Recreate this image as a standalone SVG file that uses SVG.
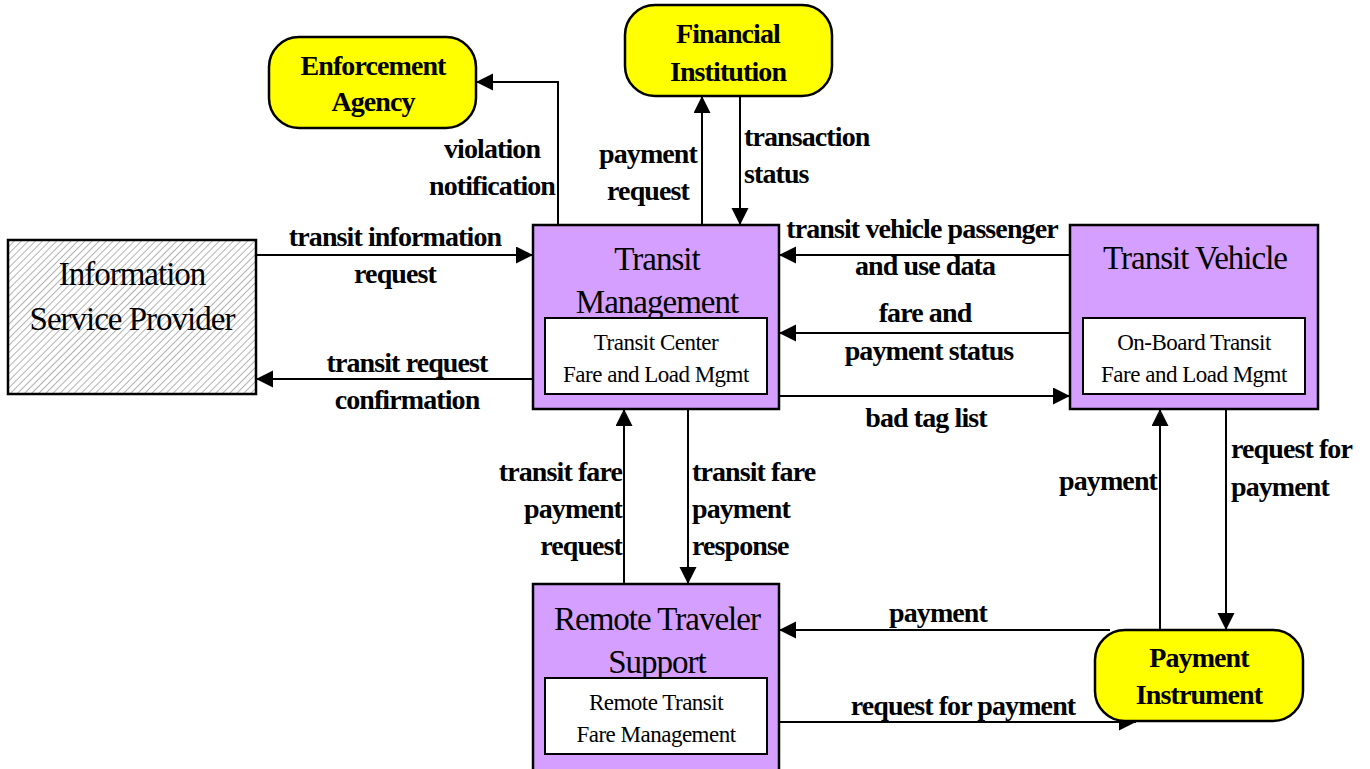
<svg xmlns="http://www.w3.org/2000/svg" width="1370" height="769" viewBox="0 0 1370 769">
<style>
.box{fill:#D49FFF;stroke:#000;stroke-width:2.5}
.inner{fill:#fff;stroke:#000;stroke-width:2}
.ext{fill:#FFFF00;stroke:#000;stroke-width:2.5}
.title{font-family:"Liberation Serif",serif;font-size:33px;letter-spacing:-1px;text-anchor:middle;fill:#000}
.sub{font-family:"Liberation Serif",serif;font-size:23px;letter-spacing:-0.5px;text-anchor:middle;fill:#000}
.lbl{font-family:"Liberation Serif",serif;font-size:28px;font-weight:bold;letter-spacing:-0.9px;fill:#000}
.c{text-anchor:middle}.e{text-anchor:end}.s{text-anchor:start}
.conn{fill:none;stroke:#000;stroke-width:2;marker-end:url(#arr)}
</style>
<defs>
<marker id="arr" markerUnits="userSpaceOnUse" markerWidth="19" markerHeight="19" refX="17" refY="8.5" orient="auto">
<path d="M0,0 L17,8.5 L0,17 z" fill="#000"/>
</marker>
<pattern id="hatch" patternUnits="userSpaceOnUse" width="5" height="5" patternTransform="rotate(45)">
<rect width="5" height="5" fill="#fff"/>
<line x1="0" y1="0" x2="0" y2="5" stroke="#999" stroke-width="1.5"/>
</pattern>
</defs>
<rect width="1370" height="769" fill="#fff"/>

<g id="connectors">
<path class="conn" d="M256,255 H533"/>
<path class="conn" d="M533,379 H256"/>
<path class="conn" d="M558,225 V82 H476"/>
<path class="conn" d="M702,225 V96"/>
<path class="conn" d="M740,96 V225"/>
<path class="conn" d="M1070,255 H779"/>
<path class="conn" d="M1070,333 H779"/>
<path class="conn" d="M779,396 H1070"/>
<path class="conn" d="M624,584 V409"/>
<path class="conn" d="M688,409 V584"/>
<path class="conn" d="M1160,630 V409"/>
<path class="conn" d="M1226,409 V630"/>
<path class="conn" d="M1110,630 H779"/>
<path class="conn" d="M779,722 H1136"/>
</g>

<g id="labels">
<text class="lbl c" x="395" y="246">transit information</text>
<text class="lbl c" x="395" y="283">request</text>
<text class="lbl c" x="407" y="372">transit request</text>
<text class="lbl c" x="407" y="409">confirmation</text>
<text class="lbl c" x="492" y="158">violation</text>
<text class="lbl c" x="492" y="195">notification</text>
<text class="lbl c" x="648" y="163">payment</text>
<text class="lbl c" x="648" y="200">request</text>
<text class="lbl s" x="744" y="146">transaction</text>
<text class="lbl s" x="744" y="183">status</text>
<text class="lbl c" x="922" y="238">transit vehicle passenger</text>
<text class="lbl c" x="925" y="275">and use data</text>
<text class="lbl c" x="925" y="322">fare and</text>
<text class="lbl c" x="929" y="360">payment status</text>
<text class="lbl c" x="926" y="427">bad tag list</text>
<text class="lbl e" x="622" y="481">transit fare</text>
<text class="lbl e" x="622" y="518">payment</text>
<text class="lbl e" x="622" y="555">request</text>
<text class="lbl s" x="692" y="481">transit fare</text>
<text class="lbl s" x="692" y="518">payment</text>
<text class="lbl s" x="692" y="555">response</text>
<text class="lbl e" x="1157" y="490">payment</text>
<text class="lbl s" x="1231" y="458">request for</text>
<text class="lbl s" x="1231" y="496">payment</text>
<text class="lbl c" x="938" y="622">payment</text>
<text class="lbl c" x="963" y="715">request for payment</text>
</g>

<g id="isp">
<rect x="8" y="240" width="248" height="154" fill="url(#hatch)" stroke="#000" stroke-width="2.5"/>
<text class="title" x="132" y="285">Information</text>
<text class="title" x="132" y="330">Service Provider</text>
</g>

<g id="transit-management">
<rect class="box" x="533" y="225" width="246" height="184"/>
<text class="title" x="657" y="270">Transit</text>
<text class="title" x="657" y="313">Management</text>
<rect class="inner" x="545" y="318" width="222" height="76"/>
<text class="sub" x="656" y="350">Transit Center</text>
<text class="sub" x="656" y="382">Fare and Load Mgmt</text>
</g>

<g id="transit-vehicle">
<rect class="box" x="1070" y="225" width="248" height="184"/>
<text class="title" x="1195" y="269">Transit Vehicle</text>
<rect class="inner" x="1083" y="318" width="222" height="76"/>
<text class="sub" x="1194" y="350">On-Board Transit</text>
<text class="sub" x="1194" y="382">Fare and Load Mgmt</text>
</g>

<g id="remote-traveler-support">
<rect class="box" x="533" y="584" width="246" height="190"/>
<text class="title" x="657" y="630">Remote Traveler</text>
<text class="title" x="657" y="673">Support</text>
<rect class="inner" x="545" y="678" width="222" height="76"/>
<text class="sub" x="656" y="710">Remote Transit</text>
<text class="sub" x="656" y="742">Fare Management</text>
</g>

<g id="enforcement-agency">
<rect class="ext" x="269" y="37" width="207" height="91" rx="30" ry="30"/>
<text class="lbl c" x="373" y="75">Enforcement</text>
<text class="lbl c" x="373" y="111">Agency</text>
</g>

<g id="financial-institution">
<rect class="ext" x="625" y="5" width="207" height="91" rx="30" ry="30"/>
<text class="lbl c" x="728" y="43">Financial</text>
<text class="lbl c" x="728" y="81">Institution</text>
</g>

<g id="payment-instrument">
<rect class="ext" x="1095" y="630" width="208" height="91" rx="30" ry="30"/>
<text class="lbl c" x="1199" y="667">Payment</text>
<text class="lbl c" x="1199" y="704">Instrument</text>
</g>
</svg>
